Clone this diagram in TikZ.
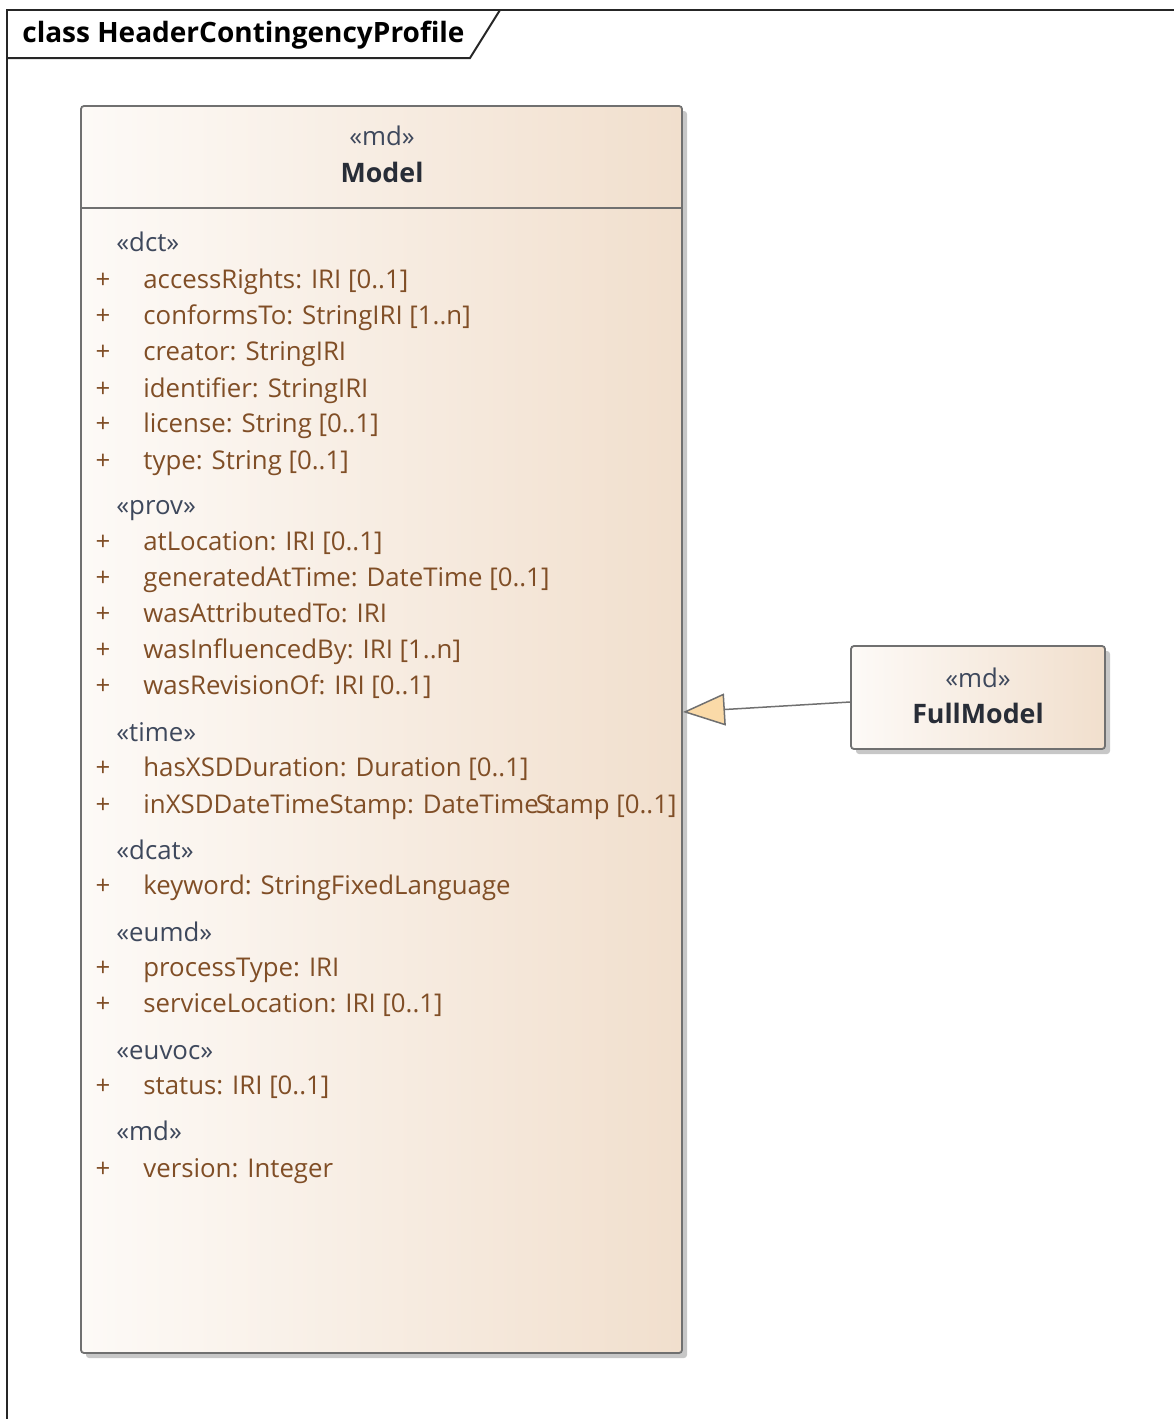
\documentclass[tikz,border=0pt]{standalone}
\usepackage{fontspec}
\setmainfont{Open Sans}
\usetikzlibrary{arrows.meta,shadows}

\definecolor{boxleft}{RGB}{253,250,247}
\definecolor{boxright}{RGB}{241,223,205}
\definecolor{boxline}{RGB}{112,112,112}
\definecolor{attrtext}{RGB}{128,78,38}
\definecolor{stereo}{RGB}{62,72,92}
\definecolor{classname}{RGB}{40,45,55}
\definecolor{trifill}{RGB}{250,218,168}

\tikzset{
  classbox/.style={draw=boxline, line width=0.9pt, rounded corners=1.5pt,
    left color=boxleft, right color=boxright,
    drop shadow={shadow xshift=2.5pt, shadow yshift=-2.5pt, fill=black!40, opacity=0.55}},
  txt/.style={inner sep=0pt, font=\fontsize{12.9}{15}\selectfont},
  attr/.style={txt, anchor=base west, text=attrtext},
  plus/.style={txt, anchor=base, text=attrtext},
  stype/.style={txt, anchor=base west, text=stereo},
  cname/.style={txt, anchor=base, text=classname, font=\fontsize{13.4}{16}\selectfont\bfseries},
  inherit/.style={draw=boxline, line width=0.75pt,
    -{Triangle[length=21pt, width=16pt, fill=trifill]}}
}

\begin{document}
\begin{tikzpicture}[x=0.5pt,y=-0.5pt]
\useasboundingbox (0,0) rectangle (1174,1419);

% frame and title tab
\draw[line width=1pt, black!85] (7,1419) -- (7,10) -- (1174,10);
\draw[line width=1pt, black!85] (7,58) -- (470,58) -- (500,10);
\node[txt, anchor=base west, font=\fontsize{14}{16}\selectfont\bfseries] (title) at (22,42) {class HeaderContingencyProfile};

% class Model
\node[classbox, minimum width=300.5pt, minimum height=623.5pt] (model) at (381.5,729.5) {};
\draw[boxline, line width=0.9pt] (81,208) -- (682,208);
\node[txt, anchor=base, text=stereo] (modelst) at (382,145) {«md»};
\node[cname] (modelname) at (382,182) {Model};

\foreach \y/\s [count=\i] in {251/dct, 514/prov, 741/time, 859/dcat, 941/eumd, 1059/euvoc, 1140/md}
  \node[stype] (st\i) at (116,\y) {«\s»};

\foreach \y/\t [count=\i] in {288/{accessRights: IRI [0..1]}, 324/{conformsTo: StringIRI [1..n]},
  360/{creator: StringIRI}, 397/{identifier: StringIRI}, 432/{license: String [0..1]},
  469/{type: String [0..1]}, 550/{atLocation: IRI [0..1]}, 586/{generatedAtTime: DateTime [0..1]},
  622/{wasAttributedTo: IRI}, 658/{wasInfluencedBy: IRI [1..n]}, 694/{wasRevisionOf: IRI [0..1]},
  776/{hasXSDDuration: Duration [0..1]}, 813/{inXSDDateTimeStamp: DateTime\kern-1.5pt S\kern-1.8pt tamp [0..1]},
  894/{keyword: StringFixedLanguage}, 976/{processType: IRI}, 1012/{serviceLocation: IRI [0..1]},
  1094/{status: IRI [0..1]}, 1177/{version: Integer}}
{
  \node[plus] (plus\i) at (103,\y) {+};
  \node[attr] (attr\i) at (143,\y) {\t};
}

% class FullModel
\node[classbox, minimum width=127pt, minimum height=51.5pt] (full) at (978,697.5) {};
\node[txt, anchor=base, text=stereo] (fullst) at (978,687) {«md»};
\node[cname] (fullname) at (978,723) {FullModel};

% generalization
\coordinate (tip) at (683,712);
\draw[inherit] ([yshift=-2.25pt]full.west) -- (tip);
\end{tikzpicture}
\end{document}
